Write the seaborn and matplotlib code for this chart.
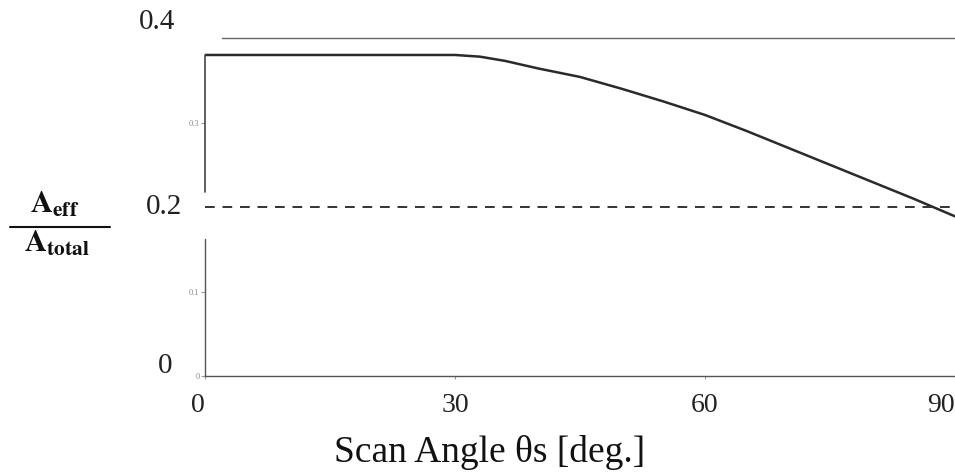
import matplotlib
matplotlib.use("Agg")
import matplotlib.pyplot as plt
import matplotlib.transforms as mtransforms
import seaborn as sns
import pandas as pd

# Effective aperture ratio versus scan angle
scan_angle = [0, 10, 20, 30, 33, 36, 40, 45, 50, 55, 60, 65, 70, 75, 80, 85, 90]
area_ratio = [0.380, 0.380, 0.380, 0.380, 0.378, 0.373, 0.364, 0.354, 0.340,
              0.325, 0.309, 0.290, 0.270, 0.250, 0.230, 0.210, 0.189]
threshold = 0.2

x_ticks = [0, 30, 60, 90]
x_tick_labels = ["0", "30", "60", "90"]
small_y_ticks = [0, 0.1, 0.3]
small_y_labels = ["0", "0.1", "0.3"]
big_y_values = [0.4, 0.2, 0]
big_y_labels = ["0.4", "0.2", "0"]

sns.set_theme(style="white")
plt.rcParams["font.family"] = ["Liberation Serif", "DejaVu Serif"]
plt.rcParams["mathtext.fontset"] = "stix"

df = pd.DataFrame({"angle": scan_angle, "ratio": area_ratio})

fig = plt.figure(figsize=(9.55, 4.76), dpi=100)
ax = fig.add_axes([0.2147, 0.210, 0.7853, 0.710])

sns.lineplot(data=df, x="angle", y="ratio", ax=ax, color="#2a2a2a", linewidth=1.8)
ax.axhline(threshold, color="#333333", linestyle=(0, (5, 4)), linewidth=1.4)

ax.set_xlim(0, 90)
ax.set_ylim(0, 0.4)

# frame: broken left edge, short top rule, full bottom rule
for side in ["top", "right", "left"]:
    ax.spines[side].set_visible(False)
ax.spines["bottom"].set_color("#555555")
ax.spines["bottom"].set_linewidth(1.0)
ax.axvline(0, ymin=0, ymax=0.162 / 0.4, color="#555555", linewidth=1.0, clip_on=False)
ax.axvline(0, ymin=0.218 / 0.4, ymax=0.38 / 0.4, color="#444444", linewidth=1.2, clip_on=False)
ax.axhline(0.4, xmin=2 / 90, xmax=1, color="#666666", linewidth=1.0, clip_on=False)

ax.set_xticks(x_ticks)
ax.set_xticklabels(x_tick_labels, fontsize=20, color="#222222")
ax.tick_params(axis="x", length=2, width=0.8, color="#999999", pad=10, bottom=True)
labels = ax.get_xticklabels()
labels[0].set_horizontalalignment("right")
labels[-1].set_horizontalalignment("right")

ax.set_yticks(small_y_ticks)
ax.set_yticklabels(small_y_labels, fontsize=6, color="#888888")
ax.tick_params(axis="y", length=3, width=0.8, color="#999999", pad=1, left=True)

# large value marks to the left of the axis
trans = mtransforms.blended_transform_factory(fig.transFigure, ax.transData)
big_pos = [(157 / 955, 0.419), (164 / 955, 0.200), (165 / 955, 0.012)]
for (xf, yv), txt in zip(big_pos, big_y_labels):
    ax.text(xf, yv, txt, transform=trans, fontsize=21, ha="center", va="center",
            color="#222222", clip_on=False)

ax.set_xlabel("")
ax.set_ylabel("")
fig.text(490 / 955, 1 - 462 / 476, "Scan Angle θs [deg.]", fontsize=27,
         ha="center", va="baseline", color="#111111")

# ratio label as a stacked fraction
fig.text(55 / 955, 1 - 205 / 476, r"$\mathbf{A}_{\mathbf{eff}}$", fontsize=22,
         ha="center", va="center", color="#111111")
fig.add_artist(plt.Line2D([10 / 955, 110 / 955], [1 - 227 / 476, 1 - 227 / 476],
                          transform=fig.transFigure, color="#111111", linewidth=1.5))
fig.text(57 / 955, 1 - 244 / 476, r"$\mathbf{A}_{\mathbf{total}}$", fontsize=22,
         ha="center", va="center", color="#111111")

fig.savefig("out.png", dpi=100, facecolor="white")
